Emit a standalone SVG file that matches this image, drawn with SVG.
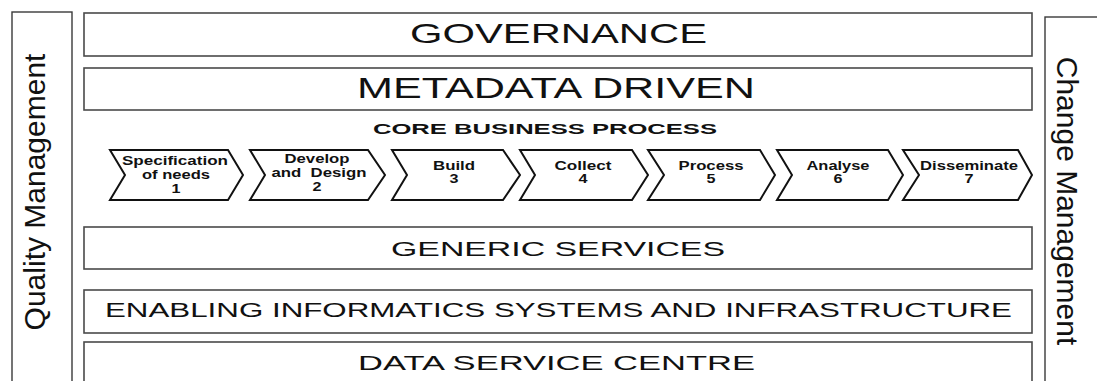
<svg xmlns="http://www.w3.org/2000/svg" width="1097" height="381" viewBox="0 0 1097 381">
  <style>
    .band { fill: #fff; stroke: #4a4a4a; stroke-width: 1.6; }
    .side { fill: #fff; stroke: #3a3a3a; stroke-width: 1.4; }
    .chev { fill: #fff; stroke: #111; stroke-width: 2; stroke-linejoin: miter; }
    .big { font-family: "Liberation Sans", Arial, sans-serif; fill: #111; }
    .step { font-family: "Liberation Sans", Arial, sans-serif; font-weight: bold; font-size: 12px; fill: #111; text-anchor: middle; }
    .vert { font-family: "Liberation Sans", Arial, sans-serif; font-size: 30px; fill: #111; text-anchor: middle; }
  </style>
  <rect width="1097" height="381" fill="#fff"/>

  <!-- side pillars -->
  <g id="quality-management">
    <rect class="side" x="12" y="12" width="60" height="380"/>
    <text class="vert" transform="translate(45,192) rotate(-90)">Quality Management</text>
  </g>
  <g id="change-management">
    <rect class="side" x="1045" y="17" width="60" height="380"/>
    <text class="vert" transform="translate(1057,201) rotate(90)">Change Management</text>
  </g>

  <!-- horizontal layers -->
  <g id="governance">
    <rect class="band" x="84" y="13" width="948" height="43"/>
    <text class="big" x="410" y="43" font-size="28" textLength="297" lengthAdjust="spacingAndGlyphs">GOVERNANCE</text>
  </g>
  <g id="metadata-driven">
    <rect class="band" x="84" y="68" width="948" height="42"/>
    <text class="big" x="357" y="97.5" font-size="30" textLength="398" lengthAdjust="spacingAndGlyphs">METADATA DRIVEN</text>
  </g>
  <g id="core-business-process">
    <text class="big" x="373" y="134" font-size="15.5" font-weight="bold" textLength="344" lengthAdjust="spacingAndGlyphs">CORE BUSINESS PROCESS</text>
  </g>

  <!-- process steps -->
  <g id="step-1">
    <polygon class="chev" points="110,150 228,150 243,175 228,200 110,200 125,175"/>
    <text class="step" x="175" y="165" textLength="106" lengthAdjust="spacingAndGlyphs">Specification</text>
    <text class="step" x="176" y="179" textLength="68" lengthAdjust="spacingAndGlyphs">of needs</text>
    <text class="step" x="176" y="193" textLength="9" lengthAdjust="spacingAndGlyphs">1</text>
  </g>
  <g id="step-2">
    <polygon class="chev" points="250,150 368,150 385,175 368,200 250,200 265,175"/>
    <text class="step" x="317" y="163" textLength="65" lengthAdjust="spacingAndGlyphs">Develop</text>
    <text class="step" x="319" y="177" textLength="95" lengthAdjust="spacingAndGlyphs" xml:space="preserve">and  Design</text>
    <text class="step" x="317" y="191" textLength="9" lengthAdjust="spacingAndGlyphs">2</text>
  </g>
  <g id="step-3">
    <polygon class="chev" points="392,150 503,150 520,175 503,200 392,200 407,175"/>
    <text class="step" x="454" y="170" textLength="42" lengthAdjust="spacingAndGlyphs">Build</text>
    <text class="step" x="454" y="183" textLength="9" lengthAdjust="spacingAndGlyphs">3</text>
  </g>
  <g id="step-4">
    <polygon class="chev" points="520,150 632,150 648,175 632,200 520,200 535,175"/>
    <text class="step" x="583" y="170" textLength="57" lengthAdjust="spacingAndGlyphs">Collect</text>
    <text class="step" x="583" y="183" textLength="9" lengthAdjust="spacingAndGlyphs">4</text>
  </g>
  <g id="step-5">
    <polygon class="chev" points="648,150 760,150 775,175 760,200 648,200 664,175"/>
    <text class="step" x="711" y="170" textLength="65" lengthAdjust="spacingAndGlyphs">Process</text>
    <text class="step" x="711" y="183" textLength="9" lengthAdjust="spacingAndGlyphs">5</text>
  </g>
  <g id="step-6">
    <polygon class="chev" points="777,150 888,150 903,175 888,200 777,200 792,175"/>
    <text class="step" x="838" y="170" textLength="63" lengthAdjust="spacingAndGlyphs">Analyse</text>
    <text class="step" x="838" y="183" textLength="9" lengthAdjust="spacingAndGlyphs">6</text>
  </g>
  <g id="step-7">
    <polygon class="chev" points="903,150 1018,150 1032,175 1018,200 903,200 919,175"/>
    <text class="step" x="969" y="170" textLength="98" lengthAdjust="spacingAndGlyphs">Disseminate</text>
    <text class="step" x="969" y="183" textLength="9" lengthAdjust="spacingAndGlyphs">7</text>
  </g>

  <g id="generic-services">
    <rect class="band" x="84" y="227" width="948" height="42"/>
    <text class="big" x="391" y="256" font-size="21" textLength="334" lengthAdjust="spacingAndGlyphs">GENERIC SERVICES</text>
  </g>
  <g id="enabling-informatics">
    <rect class="band" x="84" y="290" width="948" height="43"/>
    <text class="big" x="105" y="316.5" font-size="19.5" textLength="907" lengthAdjust="spacingAndGlyphs">ENABLING INFORMATICS SYSTEMS AND INFRASTRUCTURE</text>
  </g>
  <g id="data-service-centre">
    <rect class="band" x="84" y="342" width="948" height="50"/>
    <text class="big" x="358" y="370" font-size="21" textLength="397" lengthAdjust="spacingAndGlyphs">DATA SERVICE CENTRE</text>
  </g>

  <g id="connectors"/>
</svg>
